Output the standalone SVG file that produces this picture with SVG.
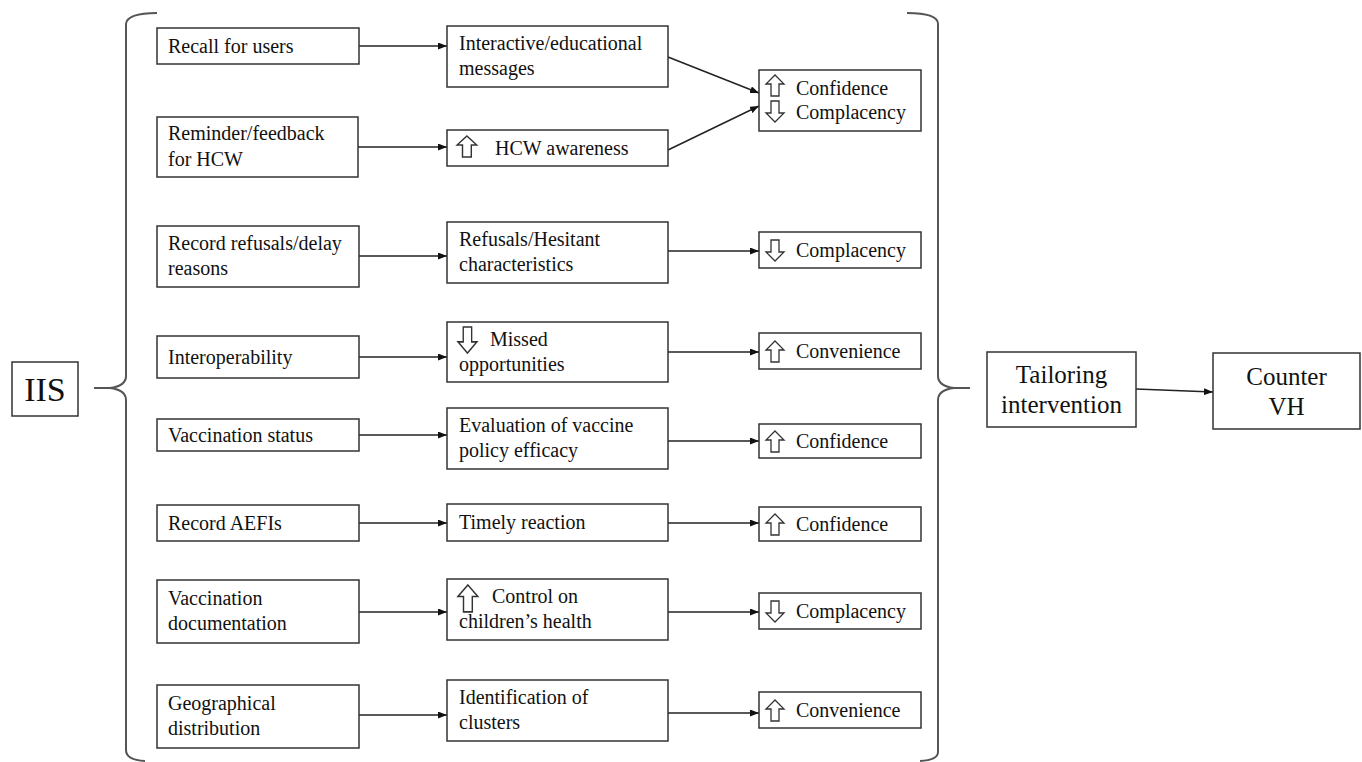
<svg xmlns="http://www.w3.org/2000/svg" xmlns:xlink="http://www.w3.org/1999/xlink" width="1362" height="762" viewBox="0 0 1362 762">
<style>
.box{fill:#fff;stroke:#333;stroke-width:1.5}
.t{font-family:"Liberation Serif","Times New Roman",serif;font-size:20px;fill:#111}
.tc{font-family:"Liberation Serif","Times New Roman",serif;font-size:25px;fill:#111;text-anchor:middle}
.ic{fill:#fff;stroke:#333;stroke-width:1.3;stroke-linejoin:miter}
.ln{fill:none;stroke:#222;stroke-width:1.5}
.br{fill:none;stroke:#555;stroke-width:2}
</style>
<defs>
<marker id="ah" markerUnits="userSpaceOnUse" markerWidth="9" markerHeight="7" refX="9" refY="3.5" orient="auto">
<path d="M0,0 L9,3.5 L0,7 Z" fill="#111"/>
</marker>
<path id="up" d="M9,0 L18,9 L13,9 L13,21 L5,21 L5,9 L0,9 Z"/>
<path id="dn" d="M5,0 L13,0 L13,12 L18,12 L9,21 L0,12 L5,12 Z"/>
</defs>
<rect width="1362" height="762" fill="#fff"/>

<g id="braces">
<path class="br" d="M157,13 Q127,13 126,24 L126,376 Q126,386 110,388 L94,388 L110,388 Q126,390 126,400 L126,750 Q126,760 145,761"/>
<path class="br" d="M907,13 Q938,13 938,24 L938,376 Q938,386 954,388 L970,388 L954,388 Q938,390 938,400 L938,752 Q938,760 920,761"/>
</g>

<g id="connectors">
<line class="ln" x1="359" y1="46" x2="447" y2="46" marker-end="url(#ah)"/>
<line class="ln" x1="358" y1="147" x2="447" y2="147" marker-end="url(#ah)"/>
<line class="ln" x1="359" y1="256" x2="447" y2="256" marker-end="url(#ah)"/>
<line class="ln" x1="359" y1="357" x2="447" y2="357" marker-end="url(#ah)"/>
<line class="ln" x1="359" y1="435" x2="447" y2="435" marker-end="url(#ah)"/>
<line class="ln" x1="359" y1="523" x2="447" y2="523" marker-end="url(#ah)"/>
<line class="ln" x1="359" y1="612" x2="447" y2="612" marker-end="url(#ah)"/>
<line class="ln" x1="359" y1="715" x2="447" y2="715" marker-end="url(#ah)"/>
<line class="ln" x1="668" y1="57" x2="759" y2="93" marker-end="url(#ah)"/>
<line class="ln" x1="668" y1="150" x2="759" y2="106" marker-end="url(#ah)"/>
<line class="ln" x1="668" y1="251" x2="759" y2="251" marker-end="url(#ah)"/>
<line class="ln" x1="668" y1="352" x2="759" y2="352" marker-end="url(#ah)"/>
<line class="ln" x1="668" y1="441" x2="759" y2="441" marker-end="url(#ah)"/>
<line class="ln" x1="668" y1="523" x2="759" y2="523" marker-end="url(#ah)"/>
<line class="ln" x1="668" y1="612" x2="759" y2="612" marker-end="url(#ah)"/>
<line class="ln" x1="668" y1="713" x2="759" y2="713" marker-end="url(#ah)"/>
<line class="ln" x1="1136" y1="389" x2="1213" y2="392" marker-end="url(#ah)"/>
</g>

<g id="iis"><rect class="box" x="12" y="362" width="66" height="54"/><text class="tc" x="45" y="401" style="font-size:34px">IIS</text></g>

<g id="c1r1"><rect class="box" x="157" y="28" width="202" height="36"/><text class="t" x="168" y="53">Recall for users</text></g>
<g id="c1r2"><rect class="box" x="157" y="117" width="201" height="60"/><text class="t" x="168" y="140">Reminder/feedback</text><text class="t" x="168" y="166">for HCW</text></g>
<g id="c1r3"><rect class="box" x="157" y="226" width="202" height="61"/><text class="t" x="168" y="250">Record refusals/delay</text><text class="t" x="168" y="275">reasons</text></g>
<g id="c1r4"><rect class="box" x="157" y="336" width="202" height="42"/><text class="t" x="168" y="364">Interoperability</text></g>
<g id="c1r5"><rect class="box" x="157" y="419" width="202" height="32"/><text class="t" x="168" y="442">Vaccination status</text></g>
<g id="c1r6"><rect class="box" x="157" y="505" width="202" height="36"/><text class="t" x="168" y="530">Record AEFIs</text></g>
<g id="c1r7"><rect class="box" x="157" y="580" width="202" height="63"/><text class="t" x="168" y="605">Vaccination</text><text class="t" x="168" y="630">documentation</text></g>
<g id="c1r8"><rect class="box" x="157" y="685" width="202" height="63"/><text class="t" x="168" y="710">Geographical</text><text class="t" x="168" y="735">distribution</text></g>

<g id="c2r1"><rect class="box" x="447" y="26" width="221" height="61"/><text class="t" x="459" y="50">Interactive/educational</text><text class="t" x="459" y="75">messages</text></g>
<g id="c2r2"><rect class="box" x="447" y="130" width="221" height="36"/><use href="#up" xlink:href="#up" class="ic" transform="translate(457,136) scale(1.1,1)"/><text class="t" x="495" y="155">HCW awareness</text></g>
<g id="c2r3"><rect class="box" x="447" y="222" width="221" height="61"/><text class="t" x="459" y="246">Refusals/Hesitant</text><text class="t" x="459" y="271">characteristics</text></g>
<g id="c2r4"><rect class="box" x="447" y="322" width="221" height="60"/><use href="#dn" xlink:href="#dn" class="ic" transform="translate(458,327) scale(1.05,1.24)"/><text class="t" x="490" y="346">Missed</text><text class="t" x="459" y="371">opportunities</text></g>
<g id="c2r5"><rect class="box" x="447" y="408" width="221" height="61"/><text class="t" x="459" y="432">Evaluation  of vaccine</text><text class="t" x="459" y="457">policy efficacy</text></g>
<g id="c2r6"><rect class="box" x="447" y="504" width="221" height="37"/><text class="t" x="459" y="529">Timely  reaction</text></g>
<g id="c2r7"><rect class="box" x="447" y="579" width="221" height="61"/><use href="#up" xlink:href="#up" class="ic" transform="translate(458,585) scale(1.1,1.28)"/><text class="t" x="492" y="603">Control on</text><text class="t" x="459" y="628">children’s health</text></g>
<g id="c2r8"><rect class="box" x="447" y="680" width="221" height="61"/><text class="t" x="459" y="704">Identification  of</text><text class="t" x="459" y="729">clusters</text></g>

<g id="c3r12"><rect class="box" x="759" y="70" width="162" height="61"/><use href="#up" xlink:href="#up" class="ic" transform="translate(766,75)"/><text class="t" x="796" y="95">Confidence</text><use href="#dn" xlink:href="#dn" class="ic" transform="translate(766,101)"/><text class="t" x="796" y="119">Complacency</text></g>
<g id="c3r3"><rect class="box" x="759" y="232" width="162" height="36"/><use href="#dn" xlink:href="#dn" class="ic" transform="translate(766,240)"/><text class="t" x="796" y="257">Complacency</text></g>
<g id="c3r4"><rect class="box" x="759" y="333" width="162" height="36"/><use href="#up" xlink:href="#up" class="ic" transform="translate(766,341)"/><text class="t" x="796" y="358">Convenience</text></g>
<g id="c3r5"><rect class="box" x="759" y="424" width="162" height="34"/><use href="#up" xlink:href="#up" class="ic" transform="translate(766,431)"/><text class="t" x="796" y="448">Confidence</text></g>
<g id="c3r6"><rect class="box" x="759" y="507" width="162" height="34"/><use href="#up" xlink:href="#up" class="ic" transform="translate(766,514)"/><text class="t" x="796" y="531">Confidence</text></g>
<g id="c3r7"><rect class="box" x="759" y="593" width="162" height="36"/><use href="#dn" xlink:href="#dn" class="ic" transform="translate(766,601)"/><text class="t" x="796" y="618">Complacency</text></g>
<g id="c3r8"><rect class="box" x="759" y="692" width="162" height="36"/><use href="#up" xlink:href="#up" class="ic" transform="translate(766,700)"/><text class="t" x="796" y="717">Convenience</text></g>

<g id="tailoring"><rect class="box" x="987" y="352" width="149" height="75"/><text class="tc" x="1061.5" y="383">Tailoring</text><text class="tc" x="1061.5" y="413">intervention</text></g>
<g id="counter"><rect class="box" x="1213" y="353" width="147" height="76"/><text class="tc" x="1286.5" y="385">Counter</text><text class="tc" x="1286.5" y="415">VH</text></g>
</svg>
